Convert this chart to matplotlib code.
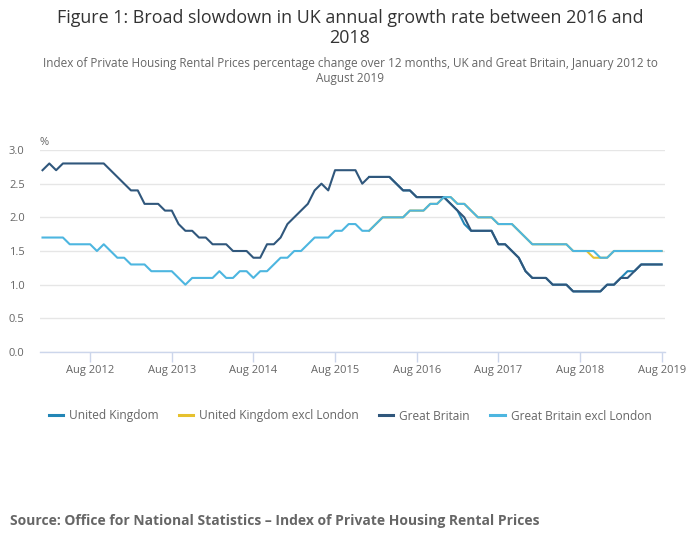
import numpy as np
import pandas as pd
import matplotlib
matplotlib.use("Agg")
import matplotlib.pyplot as plt

plt.rcParams['font.family'] = ['Open Sans', 'DejaVu Sans']

months = pd.date_range("2012-01-01", "2019-08-01", freq="MS")

gb = [2.7, 2.8, 2.7, 2.8, 2.8, 2.8, 2.8, 2.8, 2.8, 2.8, 2.7, 2.6,
      2.5, 2.4, 2.4, 2.2, 2.2, 2.2, 2.1, 2.1, 1.9, 1.8, 1.8, 1.7,
      1.7, 1.6, 1.6, 1.6, 1.5, 1.5, 1.5, 1.4, 1.4, 1.6, 1.6, 1.7,
      1.9, 2.0, 2.1, 2.2, 2.4, 2.5, 2.4, 2.7, 2.7, 2.7, 2.7, 2.5,
      2.6, 2.6, 2.6, 2.6, 2.5, 2.4, 2.4, 2.3, 2.3, 2.3, 2.3, 2.3,
      2.2, 2.1, 2.0, 1.8, 1.8, 1.8, 1.8, 1.6, 1.6, 1.5, 1.4, 1.2,
      1.1, 1.1, 1.1, 1.0, 1.0, 1.0, 0.9, 0.9, 0.9, 0.9, 0.9, 1.0,
      1.0, 1.1, 1.1, 1.2, 1.3, 1.3, 1.3, 1.3]

gb_excl = [1.7, 1.7, 1.7, 1.7, 1.6, 1.6, 1.6, 1.6, 1.5, 1.6, 1.5, 1.4,
           1.4, 1.3, 1.3, 1.3, 1.2, 1.2, 1.2, 1.2, 1.1, 1.0, 1.1, 1.1,
           1.1, 1.1, 1.2, 1.1, 1.1, 1.2, 1.2, 1.1, 1.2, 1.2, 1.3, 1.4,
           1.4, 1.5, 1.5, 1.6, 1.7, 1.7, 1.7, 1.8, 1.8, 1.9, 1.9, 1.8,
           1.8, 1.9, 2.0, 2.0, 2.0, 2.0, 2.1, 2.1, 2.1, 2.2, 2.2, 2.3,
           2.3, 2.2, 2.2, 2.1, 2.0, 2.0, 2.0, 1.9, 1.9, 1.9, 1.8, 1.7,
           1.6, 1.6, 1.6, 1.6, 1.6, 1.6, 1.5, 1.5, 1.5, 1.5, 1.4, 1.4,
           1.5, 1.5, 1.5, 1.5, 1.5, 1.5, 1.5, 1.5]

nan = np.nan
uk = [nan] * 48 + [
      2.6, 2.6, 2.6, 2.6, 2.5, 2.4, 2.4, 2.3, 2.3, 2.3, 2.3, 2.3,
      2.2, 2.1, 1.9, 1.8, 1.8, 1.8, 1.8, 1.6, 1.6, 1.5, 1.4, 1.2,
      1.1, 1.1, 1.1, 1.0, 1.0, 1.0, 0.9, 0.9, 0.9, 0.9, 0.9, 1.0,
      1.0, 1.1, 1.2, 1.2, 1.3, 1.3, 1.3, 1.3]

uk_excl = [nan] * 48 + [
           1.8, 1.9, 2.0, 2.0, 2.0, 2.0, 2.1, 2.1, 2.1, 2.2, 2.2, 2.3,
           2.3, 2.2, 2.2, 2.1, 2.0, 2.0, 2.0, 1.9, 1.9, 1.9, 1.8, 1.7,
           1.6, 1.6, 1.6, 1.6, 1.6, 1.6, 1.5, 1.5, 1.5, 1.4, 1.4, 1.4,
           1.5, 1.5, 1.5, 1.5, 1.5, 1.5, 1.5, 1.5]

series_names = ["United Kingdom", "United Kingdom excl London",
                "Great Britain", "Great Britain excl London"]
series_values = [uk, uk_excl, gb, gb_excl]
colors = ["#2386b6", "#e6c12e", "#30577c", "#4db6e0"]

xtick_labels = ["Aug 2012", "Aug 2013", "Aug 2014", "Aug 2015",
                "Aug 2016", "Aug 2017", "Aug 2018", "Aug 2019"]
ytick_values = [0.0, 0.5, 1.0, 1.5, 2.0, 2.5, 3.0]

fig = plt.figure(figsize=(7.0, 5.49), dpi=100)
ax = fig.add_axes([40 / 700, 1 - 352 / 549, 625 / 700, 202 / 549])

x = np.arange(len(months))
for name, vals, c in zip(series_names, series_values, colors):
    ax.plot(x, vals, color=c, lw=1.5, label=name, solid_joinstyle='round',
            clip_on=False)

ax.set_xlim(-0.37, 91.5)
ax.set_ylim(0, 3.0)

tick_pos = [i for i, d in enumerate(months) if d.month == 8]
ax.set_xticks(tick_pos)
ax.set_xticklabels(xtick_labels)
ax.set_yticks(ytick_values)
ax.set_yticklabels([f"{v:.1f}" for v in ytick_values])

ax.grid(axis='y', color='#e6e6e6', lw=1)
ax.set_axisbelow(True)
for s in ['top', 'right', 'left']:
    ax.spines[s].set_visible(False)
ax.spines['bottom'].set_color('#ccd6eb')
ax.spines['bottom'].set_linewidth(1)
ax.tick_params(axis='x', colors='#ccd6eb', length=7, width=1,
               labelcolor='#666666', labelsize=8, pad=2)
ax.tick_params(axis='y', length=0, labelcolor='#666666', labelsize=8, pad=11)

ax.text(0, 1.012, "%", transform=ax.transAxes, fontsize=8, color='#666666',
        ha='left', va='bottom')

fig.text(0.5, 1 - 28 / 549,
         "Figure 1: Broad slowdown in UK annual growth rate between 2016 and\n2018",
         ha='center', va='center', fontsize=12.9, color='#333333',
         linespacing=1.1)
fig.text(0.5, 1 - 71 / 549,
         "Index of Private Housing Rental Prices percentage change over 12 months, UK and Great Britain, January 2012 to\nAugust 2019",
         ha='center', va='center', fontsize=8.5, color='#666666',
         linespacing=1.2)

leg = fig.legend(loc='center', bbox_to_anchor=(0.5, 1 - 416 / 549), ncol=4,
                 frameon=False, fontsize=8.6, handlelength=1.2,
                 handletextpad=0.5, columnspacing=1.7)
for t in leg.get_texts():
    t.set_color('#666666')
for h in leg.get_lines():
    h.set_linewidth(2.2)

fig.text(10 / 700, 1 - 521 / 549,
         "Source: Office for National Statistics \u2013 Index of Private Housing Rental Prices",
         ha='left', va='center', fontsize=10.0, fontweight='bold', color='#666666')

fig.savefig("out.png", dpi=100)
